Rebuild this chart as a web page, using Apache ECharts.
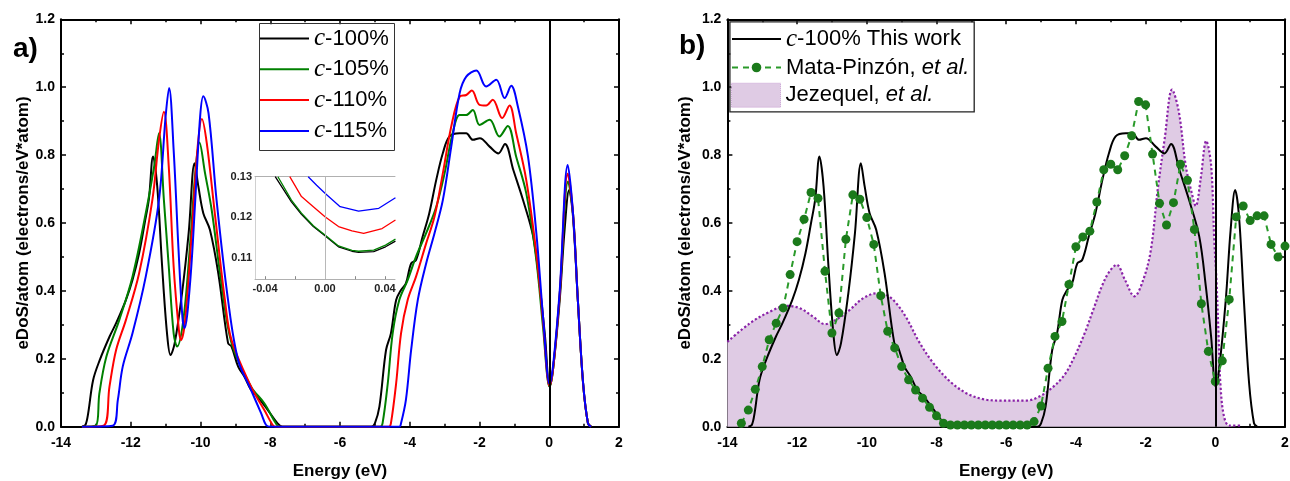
<!DOCTYPE html>
<html><head><meta charset="utf-8">
<script src="https://cdn.jsdelivr.net/npm/echarts@6/dist/echarts.min.js"></script>
<style>html,body{margin:0;padding:0;background:#fff}#c{width:1290px;height:481px}</style>
</head><body><div id="c"></div>
<script>
// ---------- data (Energy eV, eDoS) ----------
const c100 = [[-13.4,0],[-13.3,0.005],[-13.22,0.04],[-13.08,0.137],[-12.89,0.196],[-12.61,0.265],[-12.42,0.305],[-12.14,0.373],[-11.95,0.432],[-11.76,0.511],[-11.6,0.6],[-11.48,0.67],[-11.36,0.796],[-11.24,0.707],[-11.10,0.472],[-10.96,0.275],[-10.86,0.211],[-10.74,0.246],[-10.53,0.393],[-10.34,0.57],[-10.17,0.776],[-10.06,0.707],[-9.92,0.629],[-9.73,0.58],[-9.49,0.452],[-9.21,0.246],[-9.11,0.236],[-8.92,0.177],[-8.74,0.147],[-8.55,0.108],[-8.36,0.088],[-8.07,0.049],[-7.79,0.01],[-7.65,0],[-5.1,0],[-5.0,0.01],[-4.87,0.059],[-4.68,0.226],[-4.54,0.275],[-4.39,0.373],[-4.25,0.403],[-4.11,0.422],[-3.96,0.481],[-3.82,0.491],[-3.63,0.56],[-3.44,0.629],[-3.24,0.727],[-3.05,0.806],[-2.86,0.855],[-2.57,0.864],[-2.38,0.864],[-2.19,0.845],[-1.99,0.85],[-1.71,0.825],[-1.46,0.805],[-1.27,0.833],[-1.03,0.756],[-0.75,0.667],[-0.46,0.56],[-0.27,0.412],[-0.12,0.265],[0.01,0.118],[0.11,0.17],[0.3,0.373],[0.44,0.58],[0.57,0.697],[0.68,0.62],[0.82,0.373],[0.97,0.128],[1.11,0.01],[1.2,0]];
const c105 = [[-13.4,0],[-13.0,0.003],[-12.9,0.098],[-12.7,0.206],[-12.33,0.314],[-11.95,0.442],[-11.57,0.629],[-11.33,0.766],[-11.19,0.864],[-11.05,0.668],[-10.91,0.472],[-10.77,0.275],[-10.67,0.236],[-10.48,0.324],[-10.29,0.55],[-10.15,0.747],[-10.03,0.837],[-9.87,0.747],[-9.68,0.639],[-9.4,0.422],[-9.11,0.246],[-8.55,0.118],[-8.17,0.069],[-7.84,0.01],[-7.74,0],[-4.85,0],[-4.78,0.01],[-4.63,0.128],[-4.49,0.275],[-4.30,0.373],[-4.06,0.432],[-3.82,0.501],[-3.53,0.57],[-3.24,0.648],[-3.0,0.747],[-2.77,0.864],[-2.57,0.918],[-2.38,0.918],[-2.19,0.933],[-2.0,0.889],[-1.71,0.904],[-1.43,0.855],[-1.19,0.886],[-0.95,0.796],[-0.66,0.688],[-0.37,0.491],[-0.18,0.295],[0.01,0.118],[0.11,0.17],[0.3,0.39],[0.54,0.722],[0.68,0.63],[0.82,0.373],[0.97,0.128],[1.11,0.01],[1.2,0]];
const c110 = [[-13.4,0],[-12.78,0.003],[-12.61,0.118],[-12.42,0.226],[-12.14,0.314],[-11.76,0.452],[-11.38,0.668],[-11.19,0.845],[-11.05,0.928],[-10.91,0.766],[-10.77,0.472],[-10.62,0.285],[-10.56,0.255],[-10.44,0.314],[-10.25,0.57],[-10.09,0.815],[-9.96,0.906],[-9.82,0.835],[-9.59,0.629],[-9.30,0.373],[-9.11,0.255],[-8.55,0.118],[-8.17,0.049],[-7.93,0.005],[-7.85,0],[-4.6,0],[-4.54,0.01],[-4.39,0.128],[-4.25,0.275],[-4.06,0.373],[-3.82,0.442],[-3.53,0.54],[-3.29,0.619],[-3.05,0.747],[-2.81,0.884],[-2.57,0.972],[-2.38,0.977],[-2.22,0.99],[-2.0,0.948],[-1.81,0.946],[-1.62,0.963],[-1.35,0.909],[-1.14,0.946],[-0.95,0.865],[-0.66,0.727],[-0.37,0.511],[-0.18,0.314],[0.01,0.12],[0.11,0.17],[0.3,0.39],[0.53,0.745],[0.68,0.63],[0.82,0.373],[0.97,0.128],[1.11,0.01],[1.2,0]];
const c115 = [[-13.4,0],[-12.52,0.003],[-12.37,0.079],[-12.23,0.177],[-11.95,0.275],[-11.57,0.442],[-11.19,0.668],[-11.0,0.914],[-10.90,0.998],[-10.77,0.815],[-10.63,0.521],[-10.52,0.324],[-10.46,0.29],[-10.30,0.422],[-10.15,0.668],[-10.01,0.914],[-9.92,0.973],[-9.77,0.924],[-9.54,0.668],[-9.21,0.373],[-8.92,0.196],[-8.55,0.108],[-8.26,0.039],[-8.12,0.005],[-8.0,0],[-4.3,0],[-4.25,0.01],[-4.11,0.079],[-3.96,0.226],[-3.77,0.373],[-3.53,0.481],[-3.29,0.57],[-3.05,0.668],[-2.81,0.825],[-2.57,0.982],[-2.38,1.031],[-2.09,1.049],[-1.81,1.002],[-1.52,1.022],[-1.28,0.968],[-1.09,1.004],[-0.90,0.943],[-0.61,0.796],[-0.37,0.57],[-0.17,0.314],[0.01,0.125],[0.11,0.18],[0.3,0.4],[0.53,0.771],[0.68,0.63],[0.82,0.373],[0.97,0.13],[1.11,0.01],[1.2,0]];

const mataPinzon = [[-13.6,0.01],[-13.4,0.049],[-13.2,0.11],[-13.0,0.177],[-12.8,0.256],[-12.6,0.305],[-12.4,0.35],[-12.2,0.448],[-12.0,0.545],[-11.8,0.611],[-11.6,0.69],[-11.4,0.673],[-11.2,0.458],[-11.0,0.276],[-10.8,0.335],[-10.6,0.552],[-10.4,0.683],[-10.2,0.67],[-10.0,0.616],[-9.8,0.537],[-9.6,0.386],[-9.4,0.281],[-9.2,0.232],[-9.0,0.177],[-8.8,0.138],[-8.6,0.108],[-8.4,0.084],[-8.2,0.057],[-8.0,0.032],[-7.8,0.01],[-7.6,0.005],[-7.4,0.005],[-7.2,0.005],[-7.0,0.005],[-6.8,0.005],[-6.6,0.005],[-6.4,0.005],[-6.2,0.005],[-6.0,0.005],[-5.8,0.005],[-5.6,0.005],[-5.4,0.005],[-5.2,0.015],[-5.0,0.061],[-4.8,0.172],[-4.6,0.266],[-4.4,0.31],[-4.2,0.419],[-4.0,0.53],[-3.8,0.559],[-3.6,0.576],[-3.4,0.662],[-3.2,0.757],[-3.0,0.773],[-2.8,0.757],[-2.6,0.798],[-2.4,0.857],[-2.2,0.958],[-2.0,0.948],[-1.8,0.803],[-1.6,0.658],[-1.4,0.594],[-1.2,0.66],[-1.0,0.773],[-0.8,0.726],[-0.6,0.581],[-0.4,0.362],[-0.2,0.222],[0.0,0.133],[0.2,0.194],[0.4,0.375],[0.6,0.618],[0.8,0.65],[1.0,0.607],[1.2,0.621],[1.4,0.621],[1.6,0.537],[1.8,0.5],[2.0,0.532]];

const jezequel = [[-14.0,0.25],[-13.35,0.305],[-12.78,0.339],[-12.3,0.356],[-11.92,0.349],[-11.54,0.324],[-11.2,0.302],[-10.87,0.316],[-10.49,0.344],[-10.11,0.378],[-9.72,0.393],[-9.43,0.388],[-9.15,0.363],[-8.86,0.32],[-8.5,0.25],[-8.09,0.187],[-7.61,0.133],[-7.13,0.098],[-6.66,0.081],[-6.18,0.077],[-5.41,0.077],[-5.08,0.087],[-4.74,0.11],[-4.36,0.148],[-4.07,0.2],[-3.75,0.275],[-3.5,0.345],[-3.25,0.415],[-3.05,0.455],[-2.83,0.477],[-2.59,0.432],[-2.32,0.384],[-2.07,0.432],[-1.85,0.52],[-1.65,0.7],[-1.45,0.85],[-1.24,0.993],[-1.05,0.93],[-0.85,0.77],[-0.68,0.69],[-0.56,0.65],[-0.42,0.73],[-0.26,0.842],[-0.12,0.77],[-0.03,0.55],[0.03,0.44],[0.09,0.28],[0.15,0.12],[0.25,0.03],[0.4,0.003],[0.72,0.003]];

// inset (Energy eV, eDoS) around the Fermi level
const inset100 = [[-0.0332,0.13],[-0.0224,0.1238],[-0.0157,0.1207],[-0.0078,0.1177],[0,0.1154],[0.009,0.1127],[0.018,0.1116],[0.0224,0.1113],[0.0325,0.1115],[0.0404,0.1127],[0.047,0.1141]];
const inset105 = [[-0.0314,0.13],[-0.0224,0.1242],[-0.0157,0.121],[-0.0078,0.1179],[0,0.1156],[0.009,0.1129],[0.018,0.1118],[0.0224,0.1116],[0.0325,0.1119],[0.0404,0.1131],[0.047,0.1146]];
const inset110 = [[-0.0235,0.13],[-0.0157,0.1251],[-0.0078,0.1226],[0,0.1201],[0.009,0.1177],[0.018,0.1166],[0.0258,0.116],[0.0381,0.1172],[0.047,0.1193]];
const inset115 = [[-0.0112,0.13],[-0.0056,0.1279],[0,0.1259],[0.0101,0.1226],[0.0224,0.1215],[0.0359,0.1222],[0.047,0.1248]];

const insetXLabels = [-0.04, 0, 0.04];
const insetXTicks = [-0.04, -0.02, 0, 0.02, 0.04];
const insetYLabels = [0.11, 0.12, 0.13];

const leftNames = ['c-100%','c-105%','c-110%','c-115%'];
const rightNames = ['c-100% This work','Mata-Pinzón, et al.','Jezequel, et al.'];
const legendRich = {
  'c-100%':'{i|c}-100%','c-105%':'{i|c}-105%','c-110%':'{i|c}-110%','c-115%':'{i|c}-115%',
  'c-100% This work':'{i|c}-100% This work',
  'Mata-Pinzón, et al.':'Mata-Pinzón, {e|et al.}',
  'Jezequel, et al.':'Jezequel, {e|et al.}'
};

// ---------- styling ----------
const SANS = 'Liberation Sans';
const colors = {k:'#000000', g:'#008000', r:'#ff0000', b:'#0000ff', dg:'#1b7a1b', dash:'#2a9a2a', pLine:'#8a22a8', pFill:'#dfcbe4'};
const tick = {show:true, inside:true, length:5, lineStyle:{color:'#000', width:1.5}};
const minor = {show:true, splitNumber:2, length:3, lineStyle:{color:'#000', width:1.5}};
const labelStyle = {fontFamily:SANS, fontWeight:'bold', fontSize:14, color:'#000'};
const nameStyle = {fontFamily:SANS, fontWeight:'bold', fontSize:17, color:'#000'};

function xAx(g, pos, withLabels){
  return {type:'value', gridIndex:g, position:pos, min:-14, max:2, interval:2,
    axisLine:{onZero:false, lineStyle:{color:'#000', width:2}},
    axisTick:tick, minorTick:minor, splitLine:{show:false},
    axisLabel:Object.assign({show:withLabels, margin:9}, labelStyle),
    name: withLabels ? 'Energy (eV)' : '', nameLocation:'middle', nameGap:36, nameTextStyle:nameStyle};
}
function yAx(g, pos, withLabels, gap){
  return {type:'value', gridIndex:g, position:pos, min:0, max:1.2, interval:0.2,
    axisLine:{onZero:false, lineStyle:{color:'#000', width:2}},
    axisTick:tick, minorTick:minor, splitLine:{show:false},
    axisLabel:Object.assign({show:withLabels, margin:6, formatter:v=>v.toFixed(1)}, labelStyle),
    name: withLabels ? 'eDoS/atom (electrons/eV*atom)' : '', nameLocation:'middle', nameGap:gap, nameTextStyle:nameStyle};
}
const zeroLine = (color, width) => ({silent:true, symbol:['none','none'], animation:false, label:{show:false},
  lineStyle:{color:color, width:width, type:'solid'}, data:[{xAxis:0}]});

function mainLine(name, data, color, xi, yi, extra){
  return Object.assign({type:'line', name:name, data:data, xAxisIndex:xi, yAxisIndex:yi,
    symbol:'none', smooth:0.35, lineStyle:{color:color, width:2}, itemStyle:{color:color}, clip:true}, extra||{});
}
function insetLine(name, data, color){
  return {type:'line', name:name, data:data, xAxisIndex:4, yAxisIndex:4, symbol:'none', smooth:false,
    lineStyle:{color:color, width:1.3}, itemStyle:{color:color}, clip:true};
}

const richStyles = {
  i:{fontFamily:'Liberation Serif', fontStyle:'italic', fontSize:25, color:'#000', lineHeight:22},
  e:{fontFamily:SANS, fontStyle:'italic', fontSize:22, color:'#000', lineHeight:22}
};
const legendText = {fontFamily:SANS, fontSize:22, color:'#000', lineHeight:22, rich:richStyles};

const option = {
  animation:false,
  backgroundColor:'#ffffff',
  grid:[
    {left:61, top:19.3, width:558, height:407.4, outerBoundsMode:'none', containLabel:false},
    {left:727.4, top:19.3, width:557.6, height:407.4, outerBoundsMode:'none', containLabel:false},
    {left:255, top:176.7, width:140, height:102.5, outerBoundsMode:'none', containLabel:false}
  ],
  xAxis:[
    xAx(0,'bottom',true), xAx(0,'top',false),
    xAx(1,'bottom',true), xAx(1,'top',false),
    {type:'value', gridIndex:2, position:'bottom', min:-0.0467, max:0.0467,
      axisLine:{onZero:false, lineStyle:{color:'#b0b0b0', width:1}},
      axisTick:{show:true, inside:true, length:3, customValues:insetXTicks, lineStyle:{color:'#888'}},
      splitLine:{show:false},
      axisLabel:{show:true, customValues:insetXLabels, formatter:v=>v.toFixed(2), margin:4, fontFamily:SANS, fontWeight:'bold', fontSize:11, color:'#222'}},
    {type:'value', gridIndex:2, position:'top', min:-0.0467, max:0.0467,
      axisLine:{onZero:false, lineStyle:{color:'#b0b0b0', width:1}}, axisTick:{show:false}, axisLabel:{show:false}, splitLine:{show:false}}
  ],
  yAxis:[
    yAx(0,'left',true,28), yAx(0,'right',false,0),
    yAx(1,'left',true,34), yAx(1,'right',false,0),
    {type:'value', gridIndex:2, position:'left', min:0.1047, max:0.13,
      axisLine:{onZero:false, lineStyle:{color:'#d0d0d0', width:1}}, axisTick:{show:false}, splitLine:{show:false},
      axisLabel:{show:true, customValues:insetYLabels, formatter:v=>v.toFixed(2), margin:3, fontFamily:SANS, fontWeight:'bold', fontSize:11, color:'#222'}}
  ],
  legend:[
    {data:leftNames, orient:'vertical', left:258, top:26, padding:0, itemWidth:50, itemHeight:14, itemGap:5.8,
      itemStyle:{opacity:0}, formatter:n=>legendRich[n], textStyle:legendText},
    {data:[{name:rightNames[0], itemStyle:{opacity:0}}, {name:rightNames[1]}], orient:'vertical', left:731, top:26.5, padding:0,
      itemWidth:49, itemHeight:12, itemGap:5, formatter:n=>legendRich[n], textStyle:legendText},
    {data:[{name:rightNames[2], icon:'rect', itemStyle:{color:colors.pFill, borderColor:'#c79fd2', borderWidth:1, borderType:'dotted'}}],
      orient:'vertical', left:731, top:82.7, padding:0, itemWidth:49, itemHeight:24,
      formatter:n=>legendRich[n], textStyle:legendText}
  ],
  graphic:[
    {type:'rect', left:257, top:21, shape:{width:135, height:127}, style:{fill:null, stroke:'#333', lineWidth:1}, z:100},
    {type:'rect', left:727.4, top:19.3, shape:{width:244.3, height:90}, style:{fill:null, stroke:'#222', lineWidth:1.3}, z:100},
    {type:'text', left:13, top:35, style:{text:'a)', font:'bold 28px "Liberation Sans"', fill:'#000'}, z:100},
    {type:'text', left:679, top:32, style:{text:'b)', font:'bold 28px "Liberation Sans"', fill:'#000'}, z:100}
  ],
  series:[
    mainLine(leftNames[0], c100, colors.k, 0, 0, {markLine:zeroLine('#000',2)}),
    mainLine(leftNames[1], c105, colors.g, 0, 0),
    mainLine(leftNames[2], c110, colors.r, 0, 0),
    mainLine(leftNames[3], c115, colors.b, 0, 0),
    {type:'line', name:rightNames[2], data:jezequel, xAxisIndex:2, yAxisIndex:2, symbol:'none', smooth:0.35, z:1,
      lineStyle:{color:colors.pLine, width:2.2, type:'dotted'}, itemStyle:{color:colors.pFill},
      areaStyle:{color:colors.pFill, opacity:1}},
    mainLine(rightNames[0], c100, colors.k, 2, 2, {z:3, markLine:zeroLine('#000',2)}),
    {type:'line', name:rightNames[1], data:mataPinzon, xAxisIndex:2, yAxisIndex:2, z:4,
      symbol:'circle', symbolSize:9, showSymbol:true, smooth:false,
      lineStyle:{color:colors.dash, width:2, type:[6,5]}, itemStyle:{color:colors.dg}},
    insetLine('inset-100', inset100, colors.k),
    Object.assign(insetLine('inset-105', inset105, colors.g), {markLine:zeroLine('#b8b8b8',1)}),
    insetLine('inset-110', inset110, colors.r),
    insetLine('inset-115', inset115, colors.b)
  ]
};
const chart = echarts.init(document.getElementById('c'), null, {renderer:'canvas'});
chart.setOption(option);
</script></body></html>
